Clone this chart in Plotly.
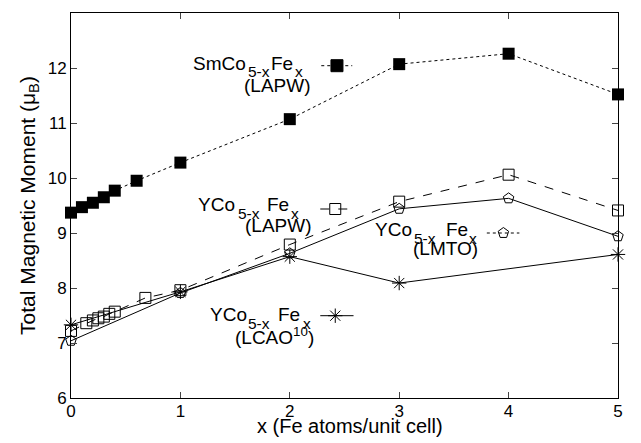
import plotly.graph_objects as go

# ---- data ----
sm_lapw_x = [0, 0.1, 0.2, 0.3, 0.4, 0.6, 1, 2, 3, 4, 5]
sm_lapw_y = [9.37, 9.47, 9.55, 9.65, 9.77, 9.95, 10.28, 11.07, 12.07, 12.26, 11.52]

y_lapw_x = [0, 0.14, 0.2, 0.25, 0.3, 0.35, 0.4, 0.68, 1, 2, 3, 4, 5]
y_lapw_y = [7.22, 7.36, 7.41, 7.45, 7.48, 7.53, 7.57, 7.82, 7.96, 8.79, 9.57, 10.06, 9.41]

y_lmto_x = [0, 1, 2, 3, 4, 5]
y_lmto_y = [7.04, 7.91, 8.63, 9.44, 9.63, 8.94]

y_lcao_x = [0, 1, 2, 3, 5]
y_lcao_y = [7.33, 7.93, 8.57, 8.09, 8.61]

x_ticks = [0, 1, 2, 3, 4, 5]
y_ticks = [6, 7, 8, 9, 10, 11, 12, 13]

x_title = "x (Fe atoms/unit cell)"
y_title = "Total Magnetic Moment (μ<sub>B</sub>)"

# ---- layout constants: page-pixel geometry of the plot area ----
PAGE_W, PAGE_H = 641, 443
OFF = 8                       # default <body> margin of the written page
W, H = PAGE_W - OFF, PAGE_H - OFF
L, R, T, B = 70.5, 618.0, 13.3, 398.3   # plot area in page pixels
XR = (0, 5)
YR = (6, 13)
FONT = "Liberation Sans, Arial, Helvetica, sans-serif"


def px2x(px):
    return XR[0] + (px - L) / (R - L) * (XR[1] - XR[0])


def px2y(py):
    return YR[0] + (B - py) / (B - T) * (YR[1] - YR[0])


def px2paper(px):
    return (px - L) / (R - L)


def py2paper(py):
    return (B - py) / (B - T)


fig = go.Figure()

common = dict(cliponaxis=False, showlegend=False, hoverinfo="skip")

fig.add_trace(go.Scatter(
    x=sm_lapw_x, y=sm_lapw_y, mode="lines+markers",
    line=dict(color="black", width=1, dash="dot"),
    marker=dict(symbol="square", size=12, color="black"), **common))

fig.add_trace(go.Scatter(
    x=y_lapw_x, y=y_lapw_y, mode="lines+markers",
    line=dict(color="black", width=1, dash="dash"),
    marker=dict(symbol="square-open", size=11, color="black", line=dict(width=1)), **common))

fig.add_trace(go.Scatter(
    x=y_lmto_x, y=y_lmto_y, mode="lines+markers",
    line=dict(color="black", width=1),
    marker=dict(symbol="pentagon-open", size=11, color="black", line=dict(width=1)), **common))

fig.add_trace(go.Scatter(
    x=y_lcao_x, y=y_lcao_y, mode="lines+markers",
    line=dict(color="black", width=1),
    marker=dict(symbol="asterisk-open", size=12, color="black", line=dict(width=1)), **common))

# ---- in-plot legend samples ----
legend_items = [
    # (line x0 px, line x1 px, marker px, y px, dash, symbol, size)
    (321, 352, 336.7, 66, "dot", "square", 12),
    (320, 353, 335, 209.3, "dash", "square-open", 11),
    (486.7, 519.3, 503.3, 233.3, "dot", "pentagon-open", 11),
    (320, 353.3, 335, 316, "solid", "asterisk-open", 12),
]
for x0, x1, xm, yp, dash, sym, sz in legend_items:
    fig.add_trace(go.Scatter(
        x=[px2x(x0), px2x(x1)], y=[px2y(yp), px2y(yp)], mode="lines",
        line=dict(color="black", width=1, dash=dash), **common))
    fig.add_trace(go.Scatter(
        x=[px2x(xm)], y=[px2y(yp)], mode="markers",
        marker=dict(symbol=sym, size=sz, color="black", line=dict(width=1, color="black")),
        **common))

# legend text pieces: (text, left px, baseline px, font size)
MAIN, SUB = 19, 15.5
label_pieces = [
    ("SmCo", 191.7, 70, MAIN), ("5-x", 246.7, 77.5, SUB), ("Fe", 270, 70, MAIN),
    ("x", 294, 77.5, SUB), ("(LAPW)", 243, 92.5, MAIN),

    ("YCo", 196.7, 211.7, MAIN), ("5-x", 236.5, 219.2, SUB), ("Fe", 266, 211.7, MAIN),
    ("x", 290, 219.2, SUB), ("(LAPW)", 243.3, 232.5, MAIN),

    ("YCo", 373.3, 236.7, MAIN), ("5-x", 413.3, 244.2, SUB), ("Fe", 445, 236.7, MAIN),
    ("x", 468.3, 244.2, SUB), ("(LMTO)", 411.7, 255.5, MAIN),

    ("YCo", 208.3, 321.7, MAIN), ("5-x", 246.7, 329.2, SUB), ("Fe", 277, 321.7, MAIN),
    ("x", 301.7, 329.2, SUB), ("(LCAO<sup>10</sup>)", 233.3, 343, MAIN),
]
annotations = []
for txt, xl, base, fs in label_pieces:
    annotations.append(dict(
        text=txt, x=px2paper(xl - 1), y=py2paper(base - 0.3465 * fs),
        xref="paper", yref="paper", xanchor="left", yanchor="middle",
        showarrow=False, font=dict(family=FONT, size=fs, color="black")))

# x-axis title placed as text under the tick labels
annotations.append(dict(
    text=x_title, x=px2paper(350), y=py2paper(426.7), xref="paper", yref="paper",
    xanchor="center", yanchor="middle", showarrow=False,
    font=dict(family=FONT, size=20, color="black")))

fig.update_layout(
    width=W, height=H,
    margin=dict(l=L - OFF, r=W - (R - OFF), t=T - OFF, b=H - (B - OFF), pad=0),
    paper_bgcolor="white", plot_bgcolor="white",
    font=dict(family=FONT, color="black"),
    annotations=annotations,
    xaxis=dict(
        range=list(XR), tickvals=x_ticks, ticks="inside", ticklen=6,
        showline=True, linecolor="black", linewidth=1, mirror="ticks",
        showgrid=False, zeroline=False, ticklabelstandoff=-2,
        tickfont=dict(size=17, family=FONT),
    ),
    yaxis=dict(
        range=list(YR), tickvals=y_ticks, ticks="inside", ticklen=6,
        showline=True, linecolor="black", linewidth=1, mirror="ticks",
        showgrid=False, zeroline=False,
        tickfont=dict(size=17, family=FONT),
        title=dict(text=y_title, font=dict(size=21, family=FONT), standoff=6),
    ),
)

fig.write_html("out.html")
